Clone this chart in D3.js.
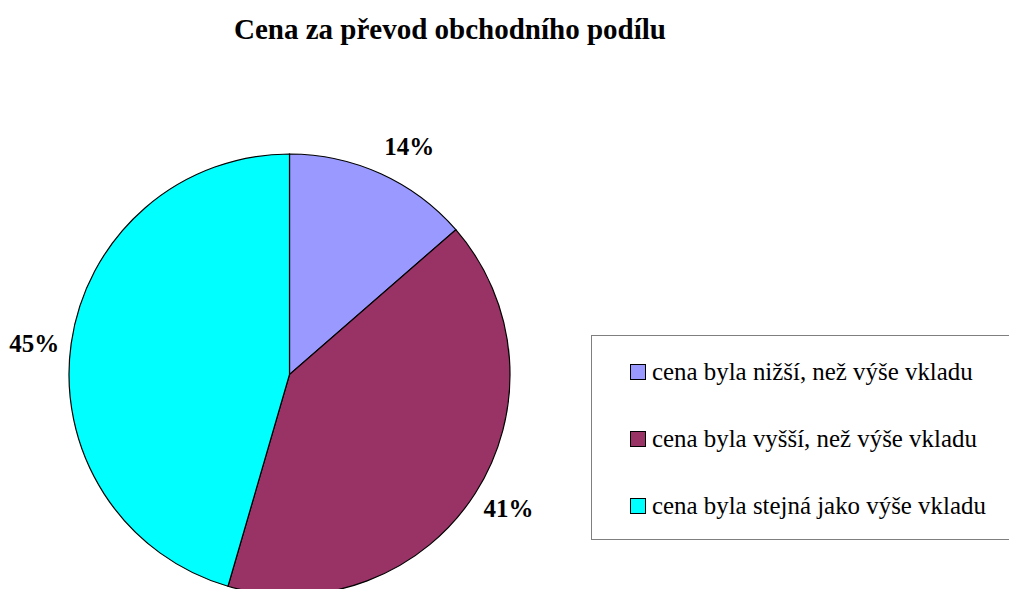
<!DOCTYPE html>
<html>
<head>
<meta charset="utf-8">
<script src="https://cdn.jsdelivr.net/npm/d3@7"></script>
<style>
  body { margin: 0; background: #fff; }
  text { font-family: "Liberation Serif", "Times New Roman", serif; }
</style>
</head>
<body>
<script>
// slices (share of answers, in %)
var categories = [
  'cena byla nižší, než výše vkladu',
  'cena byla vyšší, než výše vkladu',
  'cena byla stejná jako výše vkladu'
];
var shares = [13.6, 40.9, 45.5];
var labels = ['14%', '41%', '45%'];
var colors = ['#9999FF', '#993366', '#00FFFF'];

var width = 1009, height = 589;

var svg = d3.select('body').append('svg')
  .attr('width', width)
  .attr('height', height);

// title
svg.append('text')
  .attr('x', 450)
  .attr('y', 39)
  .attr('text-anchor', 'middle')
  .attr('font-weight', 'bold')
  .attr('font-size', 29)
  .text('Cena za převod obchodního podílu');

var radius = 220.5;
var pieG = svg.append('g')
  .attr('transform', 'translate(289.5,374.5)');

var pie = d3.pie().sort(null).value(function(d) { return d; });
var arcs = pie(shares);

var arc = d3.arc().innerRadius(0).outerRadius(radius);

pieG.selectAll('path')
  .data(arcs)
  .enter().append('path')
  .attr('d', arc)
  .attr('fill', function(d, i) { return colors[i]; })
  .attr('stroke', '#000')
  .attr('stroke-width', 1.2);

// labels sit just outside the pie
var labelArc = d3.arc().innerRadius(radius + 36.5).outerRadius(radius + 36.5);
var labelShift = [3.3, -1, -1.2]; // degrees

pieG.selectAll('text.pct')
  .data(arcs)
  .enter().append('text')
  .attr('class', 'pct')
  .attr('transform', function(d, i) {
    var a = (d.startAngle + d.endAngle) / 2 + labelShift[i] * Math.PI / 180;
    var c = labelArc.centroid({ startAngle: a, endAngle: a });
    return 'translate(' + c[0] + ',' + c[1] + ')';
  })
  .attr('text-anchor', 'middle')
  .attr('dy', '0.33em')
  .attr('font-weight', 'bold')
  .attr('font-size', 25)
  .text(function(d, i) { return labels[i]; });

// legend
var legend = svg.append('g').attr('transform', 'translate(591.5,335.5)');
legend.append('rect')
  .attr('width', 440)
  .attr('height', 204)
  .attr('fill', '#fff')
  .attr('stroke', '#7f7f7f')
  .attr('stroke-width', 1);

var rowY = d3.scalePoint()
  .domain(categories)
  .range([38, 172]);

var items = legend.selectAll('g.item')
  .data(categories)
  .enter().append('g')
  .attr('class', 'item')
  .attr('transform', function(d) { return 'translate(0,' + rowY(d) + ')'; });

items.append('rect')
  .attr('x', 39)
  .attr('y', -9)
  .attr('width', 15)
  .attr('height', 15)
  .attr('fill', function(d, i) { return colors[i]; })
  .attr('stroke', '#000')
  .attr('stroke-width', 1);

items.append('text')
  .attr('x', 60.5)
  .attr('y', 6.5)
  .attr('font-size', 24.9)
  .text(function(d) { return d; });
</script>
</body>
</html>
